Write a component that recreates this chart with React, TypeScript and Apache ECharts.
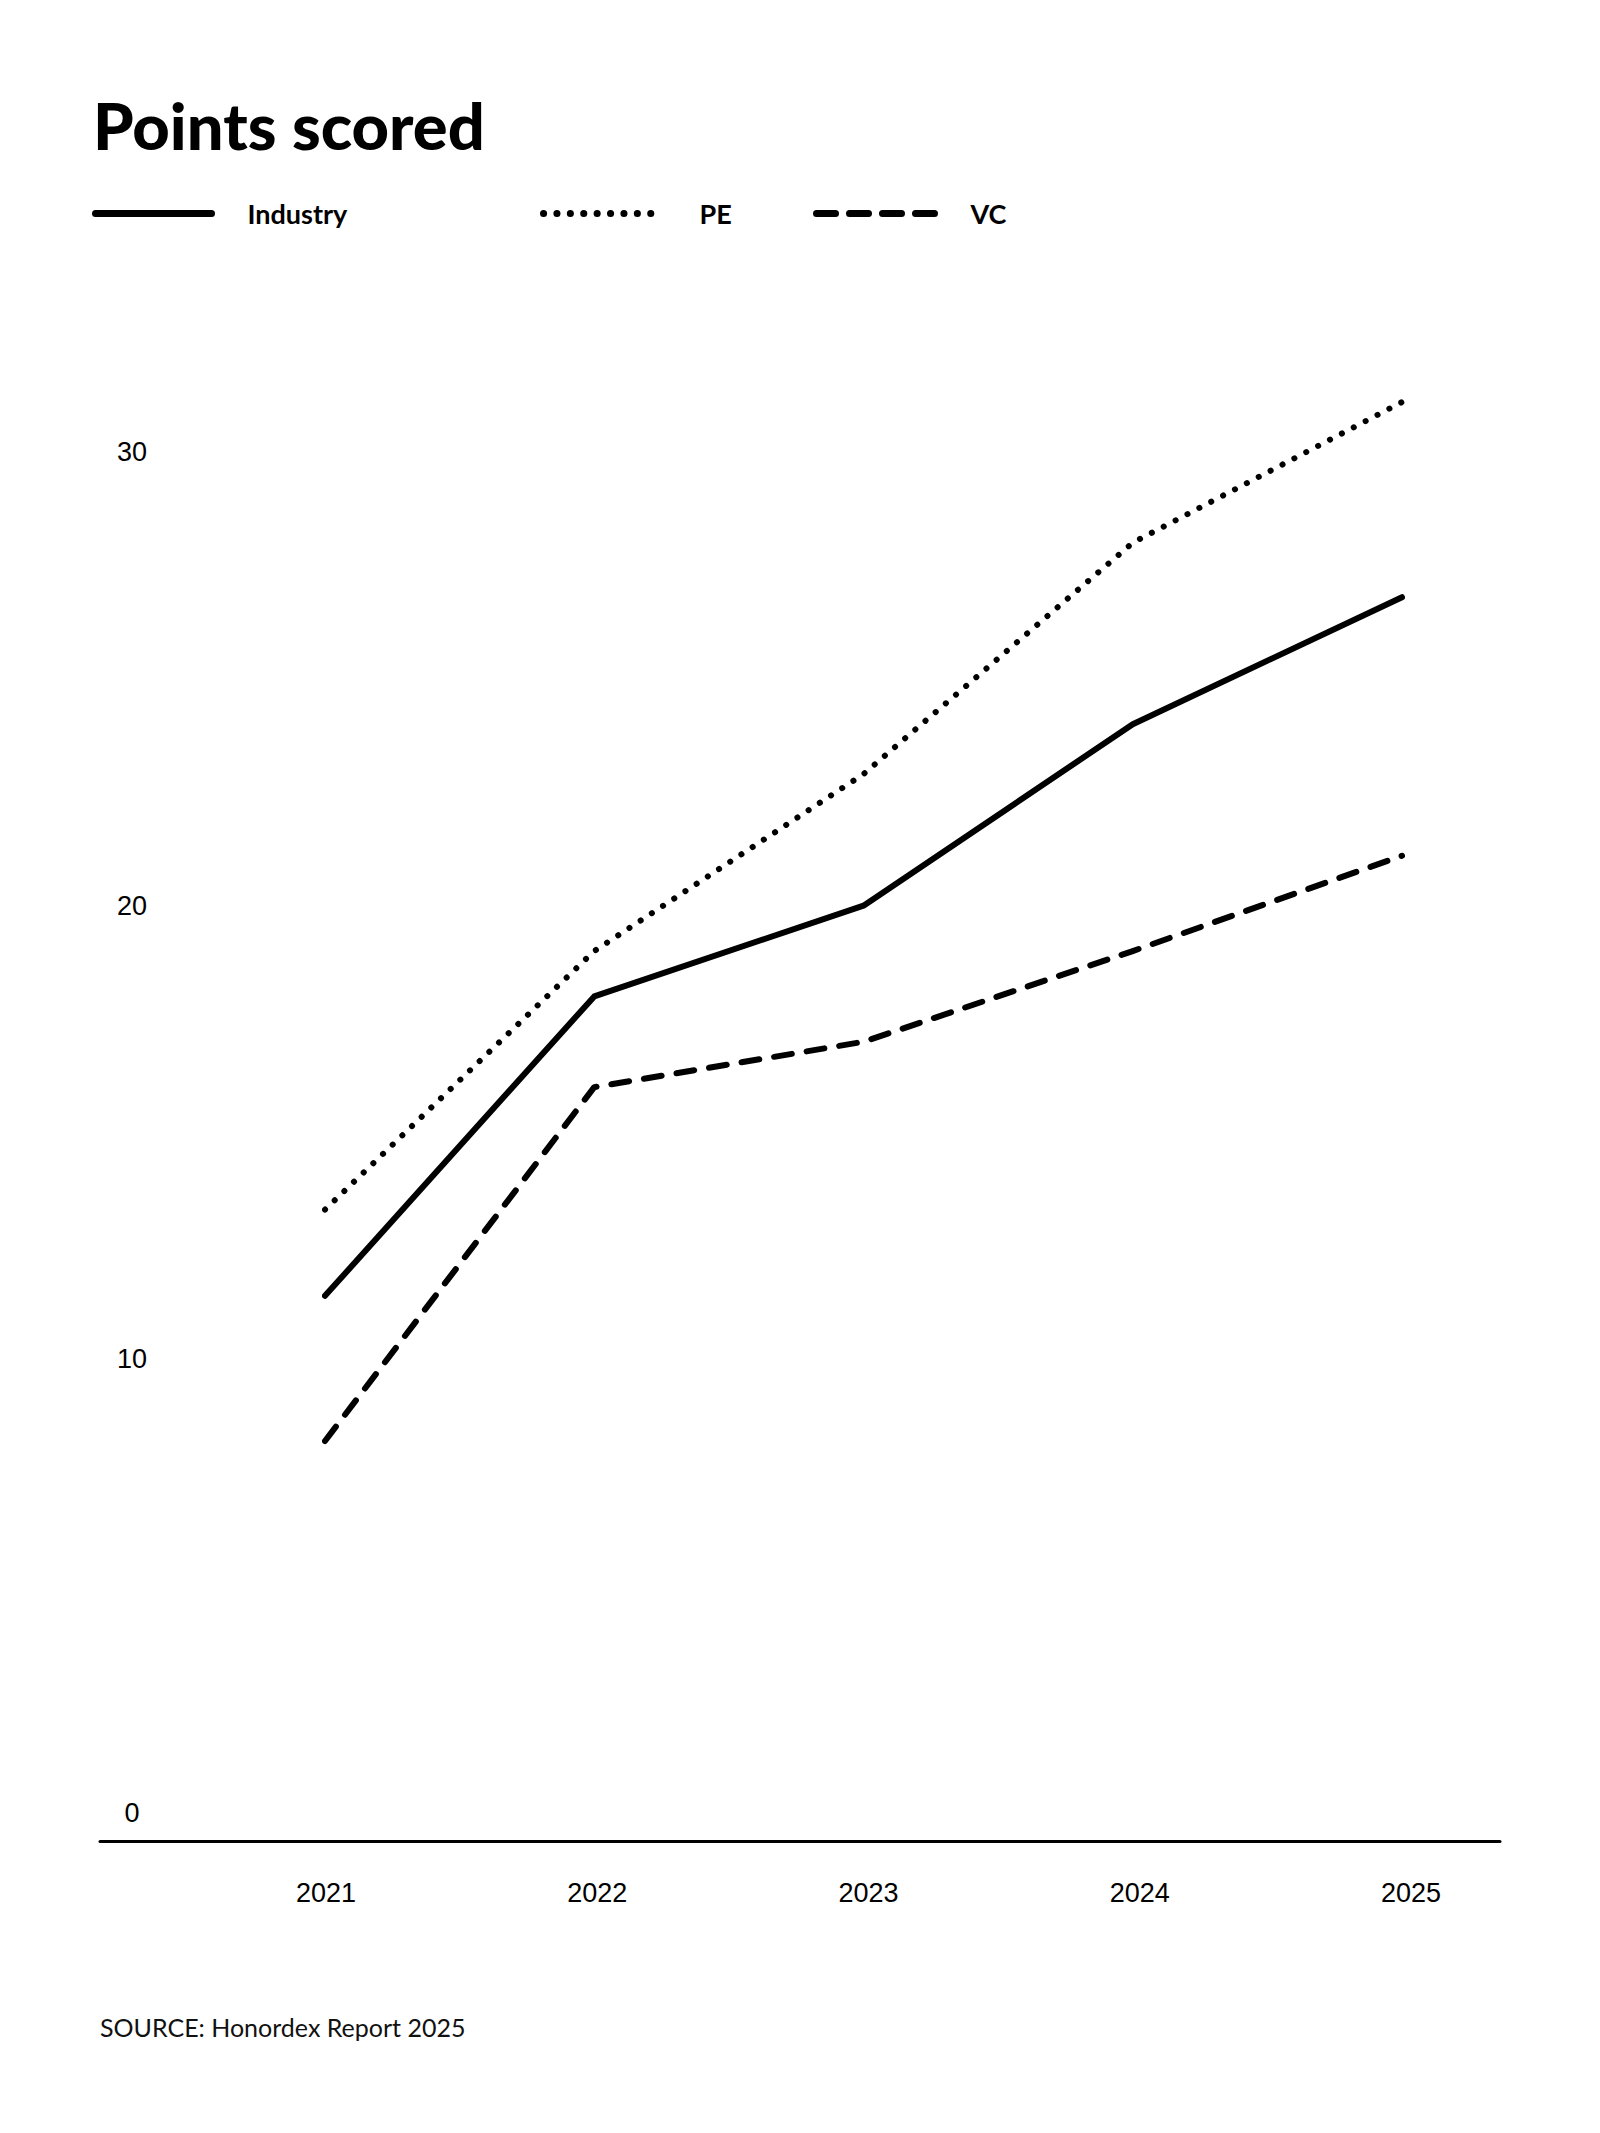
import { useEffect, useRef } from 'react'
import * as echarts from 'echarts'

const years = ['2021', '2022', '2023', '2024', '2025']
const industry = [11.4, 18, 20, 24, 26.8]
const pe = [13.3, 19, 22.9, 28, 31.1]
const vc = [8.2, 16, 17, 19, 21.1]
const yTicks = [0, 10, 20, 30]

const INK = '#000'
const DOTS = [0.1, 13.3]
const DASHES = [18, 15]
const LEGEND_DASHES = [19, 14]

export default function App() {
  const ref = useRef<HTMLDivElement | null>(null)

  useEffect(() => {
    if (!ref.current) return
    const chart = echarts.init(ref.current, undefined, { renderer: 'svg' })

    const legendText = {
      fontFamily: 'Lato',
      fontWeight: 'bold' as const,
      fontSize: 27,
      color: INK,
      padding: [0, 0, 0, 31],
    }
    // the line series always adds a marker to its legend icon; hide it
    const noMarker = { color: 'rgba(0,0,0,0)', borderWidth: 0, opacity: 0 }

    chart.setOption({
      animation: false,
      backgroundColor: '#fff',
      title: [
        {
          text: 'Points scored',
          left: 85,
          top: 84,
          padding: 0,
          textStyle: { fontFamily: 'Lato', fontWeight: 900, fontSize: 65, lineHeight: 65, color: INK },
        },
        {
          text: 'SOURCE: Honordex Report 2025',
          left: 92,
          top: 2006,
          padding: 0,
          textStyle: { fontFamily: 'Lato', fontWeight: 'normal', fontSize: 25, lineHeight: 25, color: '#111' },
        },
      ],
      legend: [
        {
          data: ['Industry'],
          left: 84,
          top: 192,
          padding: 0,
          itemWidth: 116,
          itemHeight: 30,
          lineStyle: { width: 7, cap: 'round' },
          itemStyle: noMarker,
          textStyle: legendText,
        },
        {
          data: ['PE'],
          left: 532,
          top: 192,
          padding: 0,
          itemWidth: 120,
          itemHeight: 30,
          lineStyle: { width: 7, cap: 'round', type: DOTS },
          itemStyle: noMarker,
          textStyle: legendText,
        },
        {
          data: ['VC'],
          left: 805,
          top: 192,
          padding: 0,
          itemWidth: 118,
          itemHeight: 30,
          lineStyle: { width: 7, cap: 'round', type: LEGEND_DASHES },
          itemStyle: noMarker,
          textStyle: legendText,
        },
      ],
      grid: [
        // lines
        { left: 317, right: 190, top: 444, bottom: 312 },
        // year labels
        { left: 318, right: 181, top: 444, bottom: 284 },
        // baseline
        { left: 92, right: 92, top: 444, bottom: 284 },
      ],
      xAxis: [
        { gridIndex: 0, type: 'category', data: years, boundaryGap: false, show: false },
        {
          gridIndex: 1,
          type: 'category',
          data: years,
          boundaryGap: false,
          axisLine: { show: false },
          axisTick: { show: false },
          splitLine: { show: false },
          axisLabel: {
            margin: 38,
            color: INK,
            fontFamily: 'Liberation Sans',
            fontSize: 27,
            lineHeight: 28,
          },
        },
        {
          gridIndex: 2,
          type: 'value',
          min: 0,
          max: 1,
          axisLine: { show: true, lineStyle: { color: INK, width: 3 } },
          axisTick: { show: false },
          axisLabel: { show: false },
          splitLine: { show: false },
        },
      ],
      yAxis: [
        {
          gridIndex: 0,
          type: 'value',
          min: 0,
          max: 30,
          interval: 10,
          axisLine: { show: false },
          axisTick: { show: false },
          splitLine: { show: false },
          axisLabel: {
            align: 'center',
            margin: 193,
            color: INK,
            fontFamily: 'Liberation Sans',
            fontSize: 27,
            formatter: (v: number) => (yTicks.includes(v) ? String(v) : ''),
          },
        },
        { gridIndex: 1, type: 'value', show: false },
        { gridIndex: 2, type: 'value', show: false },
      ],
      series: [
        {
          name: 'Industry',
          type: 'line',
          data: industry,
          symbol: 'none',
          clip: false,
          color: INK,
          lineStyle: { color: INK, width: 6, cap: 'round', join: 'round' },
        },
        {
          name: 'PE',
          type: 'line',
          data: pe,
          symbol: 'none',
          clip: false,
          color: INK,
          lineStyle: { color: INK, width: 6, cap: 'round', join: 'round', type: DOTS },
        },
        {
          name: 'VC',
          type: 'line',
          data: vc,
          symbol: 'none',
          clip: false,
          color: INK,
          lineStyle: { color: INK, width: 6, cap: 'round', join: 'round', type: DASHES },
        },
      ],
    })

    return () => chart.dispose()
  }, [])

  return <div ref={ref} style={{ width: 1584, height: 2117 }} />
}
